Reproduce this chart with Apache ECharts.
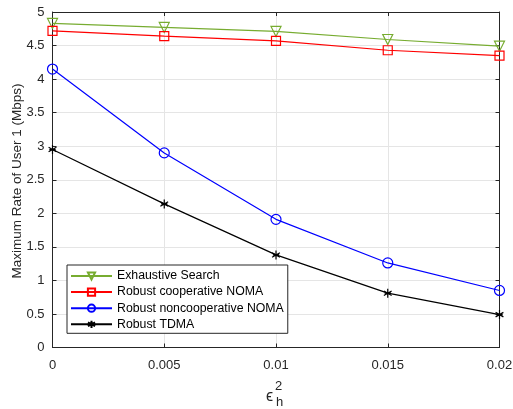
<!DOCTYPE html>
<html>
<head>
<meta charset="utf-8">
<script src="https://cdn.jsdelivr.net/npm/echarts@6/dist/echarts.min.js"></script>
<style>
  html, body { margin: 0; padding: 0; background: #fff; }
  #chart { width: 513px; height: 409px; }
</style>
</head>
<body>
<div id="chart"></div>
<script>
// x values (channel error bound)
const epsValues = [0, 0.005, 0.01, 0.015, 0.02];

// max rate of user 1 (Mbps)
const exhaustive = [4.83, 4.77, 4.71, 4.59, 4.49];
const cooperative = [4.72, 4.64, 4.57, 4.43, 4.35];
const noncooperative = [4.15, 2.90, 1.91, 1.26, 0.85];
const tdma = [2.95, 2.14, 1.38, 0.81, 0.49];

const seriesNames = ['Exhaustive Search', 'Robust cooperative NOMA', 'Robust noncooperative NOMA', 'Robust TDMA'];
const yTitle = 'Maximum Rate of User 1 (Mbps)';

const axisColor = '#262626';
const gridColor = '#e5e5e5';
const font = 'Liberation Sans, Arial, sans-serif';

const asterisk = 'path://M5,0L5,10M0.67,2.5L9.33,7.5M0.67,7.5L9.33,2.5M1.5,5L8.5,5';

const pairs = ys => epsValues.map((x, i) => [x, ys[i]]);

const chart = echarts.init(document.getElementById('chart'));

const mkSeries = (name, data, color, symbol, size, rotate) => ({
  name: name,
  type: 'line',
  data: pairs(data),
  symbol: symbol,
  symbolSize: size,
  symbolRotate: rotate || 0,
  symbolKeepAspect: true,
  showAllSymbol: true,
  lineStyle: { color: color, width: 1.2 },
  itemStyle: { color: 'rgba(0,0,0,0)', borderColor: color, borderWidth: 1.2 },
  emphasis: { disabled: true },
  z: 3
});

chart.setOption({
  animation: false,
  textStyle: { fontFamily: font },
  grid: { left: 52.5, right: 13.5, top: 12, bottom: 61.5, containLabel: false, outerBoundsMode: 'none' },
  xAxis: [{
    type: 'value', min: 0, max: 0.02, interval: 0.005,
    axisLine: { show: true, onZero: false, lineStyle: { color: axisColor, width: 1 } },
    axisTick: { show: true, inside: true, length: 4, lineStyle: { color: axisColor } },
    axisLabel: { color: axisColor, fontSize: 13, margin: 11 },
    splitLine: { show: true, lineStyle: { color: gridColor, width: 1 } }
  }, {
    type: 'value', min: 0, max: 0.02, interval: 0.005, position: 'top',
    axisLine: { show: true, onZero: false, lineStyle: { color: axisColor, width: 1 } },
    axisTick: { show: true, inside: true, length: 4, lineStyle: { color: axisColor } },
    axisLabel: { show: false },
    splitLine: { show: false }
  }],
  yAxis: [{
    type: 'value', min: 0, max: 5, interval: 0.5,
    axisLine: { show: true, onZero: false, lineStyle: { color: axisColor, width: 1 } },
    axisTick: { show: true, inside: true, length: 4, lineStyle: { color: axisColor } },
    axisLabel: { color: axisColor, fontSize: 13, margin: 8 },
    splitLine: { show: true, lineStyle: { color: gridColor, width: 1 } }
  }, {
    type: 'value', min: 0, max: 5, interval: 0.5, position: 'right',
    axisLine: { show: true, onZero: false, lineStyle: { color: axisColor, width: 1 } },
    axisTick: { show: true, inside: true, length: 4, lineStyle: { color: axisColor } },
    axisLabel: { show: false },
    splitLine: { show: false }
  }],
  legend: {
    orient: 'vertical',
    left: 67, top: 265,
    padding: [5, 4, 3, 3],
    itemGap: 4.1,
    itemWidth: 41, itemHeight: 9,
    backgroundColor: '#fff',
    borderColor: axisColor, borderWidth: 1,
    textStyle: { color: '#000', fontSize: 12.3, fontFamily: font, padding: [0, 0, 0, 0] },
    data: seriesNames
  },
  graphic: [
    { type: 'text', x: 17, y: 181, rotation: Math.PI / 2,
      style: { text: yTitle, font: '13.5px ' + font, fill: axisColor, align: 'center', verticalAlign: 'middle' } },
    { type: 'text', left: 266, top: 389, style: { text: 'ϵ', font: '16px ' + font, fill: axisColor } },
    { type: 'text', left: 275, top: 380, style: { text: '2', font: '13px ' + font, fill: axisColor } },
    { type: 'text', left: 276, top: 396, style: { text: 'h', font: '13px ' + font, fill: axisColor } }
  ],
  series: [
    mkSeries(seriesNames[0], exhaustive, '#77ac30', 'triangle', 10, 180),
    mkSeries(seriesNames[1], cooperative, '#ff0000', 'rect', 9),
    mkSeries(seriesNames[2], noncooperative, '#0000ff', 'circle', 10),
    mkSeries(seriesNames[3], tdma, '#000000', asterisk, 9)
  ]
});
</script>
</body>
</html>
